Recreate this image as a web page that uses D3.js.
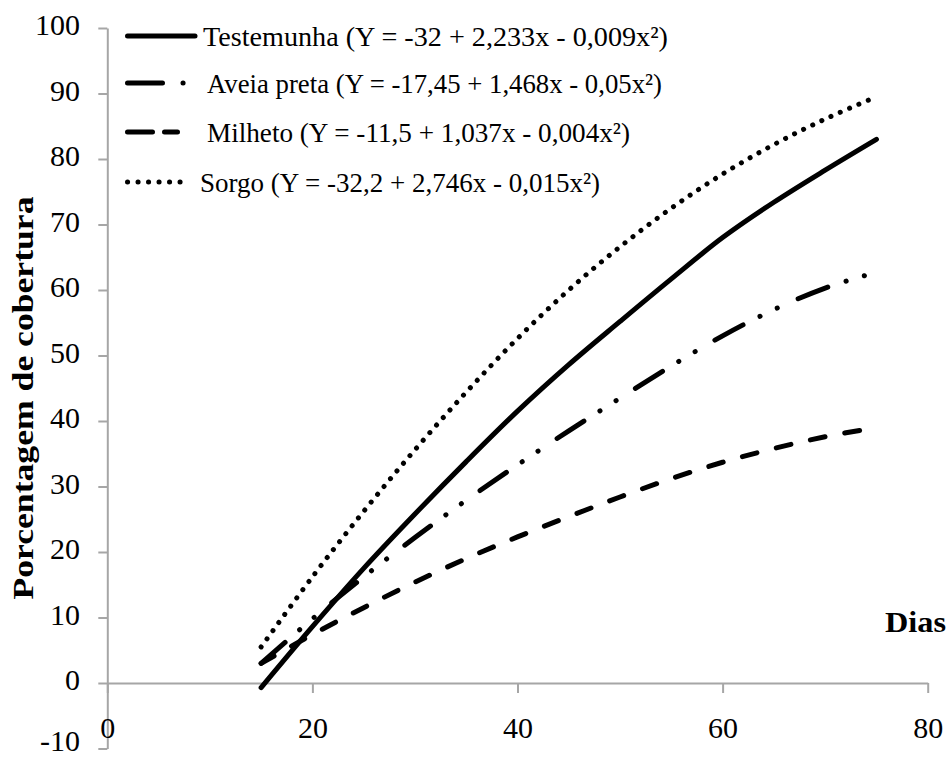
<!DOCTYPE html>
<html>
<head>
<meta charset="utf-8">
<script src="https://cdn.jsdelivr.net/npm/d3@7/dist/d3.min.js"></script>
<style>
  html, body { margin: 0; padding: 0; background: #fff; }
  svg { display: block; }
  text { font-family: "Liberation Serif", "Times New Roman", "DejaVu Serif", serif; fill: #000; }
</style>
</head>
<body>
<svg id="chart" width="951" height="757"></svg>
<script>
// Days after sowing at which the cover curves are sampled
const dias = [15, 20, 25, 30, 35, 40, 45, 50, 55, 60, 65, 70, 75];

// Soil cover (%) for each treatment
const testemunha = [-0.7, 8.6, 17.5, 25.8, 33.8, 41.5, 48.6, 55.2, 61.7, 68.0, 73.4, 78.3, 83.0];
const aveiaPreta = [3.0, 9.8, 16.2, 22.2, 27.9, 33.3, 38.5, 43.5, 48.4, 53.0, 57.0, 60.3, 62.7];
const milheto    = [3.0, 7.4, 11.5, 15.4, 19.0, 22.3, 25.4, 28.4, 31.2, 33.7, 35.8, 37.6, 39.0];
const sorgo      = [5.5, 16.2, 26.2, 35.6, 44.4, 52.6, 60.0, 66.6, 72.5, 77.7, 82.2, 86.1, 89.5];

const seriesNames = [
  "Testemunha (Y = -32 + 2,233x - 0,009x\u00B2)",
  "Aveia preta (Y = -17,45 + 1,468x - 0,05x\u00B2)",
  "Milheto (Y = -11,5 + 1,037x - 0,004x\u00B2)",
  "Sorgo (Y = -32,2 + 2,746x - 0,015x\u00B2)"
];

const xTicks = [0, 20, 40, 60, 80];
const yTicks = [-10, 0, 10, 20, 30, 40, 50, 60, 70, 80, 90, 100];

const serif = '"Liberation Serif", "Times New Roman", "DejaVu Serif", serif';

const series = [
  { name: seriesNames[0], values: testemunha, dash: null, legendDash: null, legendX: [127.5, 195], textX: 203, textLen: 465 },
  { name: seriesNames[1], values: aveiaPreta, dash: "32,19,0.1,19,0.1,22.8", legendDash: "35,20.5,0.1,100", legendX: [127.5, 184], textX: 207, textLen: 455 },
  { name: seriesNames[2], values: milheto, dash: "15,20", legendDash: "25,12", legendX: [127.5, 177.5], textX: 207, textLen: 423 },
  { name: seriesNames[3], values: sorgo, dash: "0.1,10", legendDash: "0.1,10.4", legendX: [127.5, 190], textX: 200, textLen: 400 }
];

const svg = d3.select("#chart");

const x = d3.scaleLinear().domain([0, 80]).range([107.3, 927.7]);
const y = d3.scaleLinear().domain([-10, 100]).range([748.5, 28]);

const axisColor = "#a6a6a6";
const plainNumber = d => String(d);   // hyphen-minus, no typographic minus

// Vertical axis
const yAxis = svg.append("g")
  .attr("transform", `translate(${x(0)},0)`)
  .call(d3.axisLeft(y).tickValues(yTicks).tickFormat(plainNumber)
    .tickSize(9).tickPadding(18.3).tickSizeOuter(0));
yAxis.selectAll(".tick text").attr("dy", d => d < 0 ? "0.05em" : "0.22em");

// Horizontal axis crossing at zero
const xAxis = svg.append("g")
  .attr("transform", `translate(0,${y(0)})`)
  .call(d3.axisBottom(x).tickValues(xTicks).tickFormat(plainNumber)
    .tickSize(10).tickPadding(24).tickSizeOuter(0));

[yAxis, xAxis].forEach(g => {
  g.attr("font-family", serif);
  g.select(".domain").attr("stroke", axisColor).attr("stroke-width", 2);
  g.selectAll(".tick line").attr("stroke", axisColor).attr("stroke-width", 2);
  g.selectAll(".tick text")
    .style("font-family", serif)
    .attr("font-size", 30)
    .attr("fill", "#000");
});

// Axis titles
svg.append("text")
  .attr("transform", `translate(33,398) rotate(-90)`)
  .attr("text-anchor", "middle")
  .style("font-family", serif)
  .attr("font-size", 30)
  .attr("font-weight", "bold")
  .attr("textLength", 403)
  .attr("lengthAdjust", "spacingAndGlyphs")
  .text("Porcentagem de cobertura");

svg.append("text")
  .attr("x", 885)
  .attr("y", 632)
  .style("font-family", serif)
  .attr("font-size", 30)
  .attr("font-weight", "bold")
  .attr("textLength", 61)
  .attr("lengthAdjust", "spacingAndGlyphs")
  .text("Dias");

// Curves
const line = d3.line()
  .x((d, i) => x(dias[i]))
  .y(d => y(d))
  .curve(d3.curveCatmullRom.alpha(0.5));

svg.append("g")
  .selectAll("path")
  .data(series)
  .join("path")
  .attr("d", d => line(d.values))
  .attr("fill", "none")
  .attr("stroke", "#000")
  .attr("stroke-width", 5)
  .attr("stroke-linecap", "round")
  .attr("stroke-linejoin", "round")
  .attr("stroke-dasharray", d => d.dash);

// Legend
const rowY = [36, 83, 132, 182];
const legend = svg.append("g");
series.forEach((s, i) => {
  legend.append("line")
    .attr("x1", s.legendX[0]).attr("x2", s.legendX[1])
    .attr("y1", rowY[i]).attr("y2", rowY[i])
    .attr("stroke", "#000")
    .attr("stroke-width", 5)
    .attr("stroke-linecap", "round")
    .attr("stroke-dasharray", s.legendDash);
  legend.append("text")
    .attr("x", s.textX)
    .attr("y", rowY[i] + 10)
    .style("font-family", serif)
    .attr("font-size", 28)
    .attr("textLength", s.textLen)
    .attr("lengthAdjust", "spacingAndGlyphs")
    .text(s.name);
});
</script>
</body>
</html>
